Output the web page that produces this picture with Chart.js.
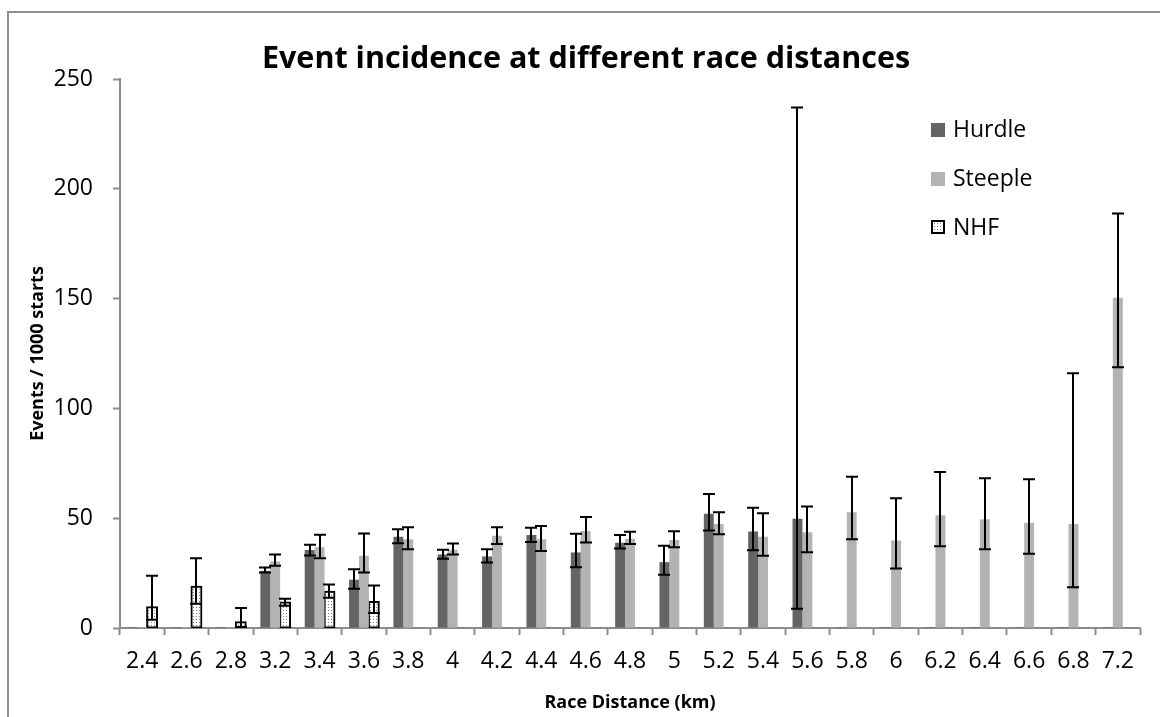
<!DOCTYPE html>
<html>
<head>
<meta charset="utf-8">
<script src="https://cdn.jsdelivr.net/npm/chart.js@4.4.1/dist/chart.umd.min.js"></script>
<style>
  html, body { margin: 0; padding: 0; background: #fff; overflow: hidden; }
  #wrap { position: relative; width: 1160px; height: 717px; overflow: hidden; }
  #frame { position: absolute; left: 7px; top: 11px; width: 1220px; height: 800px;
           border: 2px solid #8e8e8e; box-sizing: border-box; }
  #c { position: absolute; left: 0; top: 0; }
</style>
</head>
<body>
<div id="wrap">
  <div id="frame"></div>
  <canvas id="c" width="1160" height="717"></canvas>
</div>
<script>
// Race distances (km)
const distances = ['2.4','2.6','2.8','3.2','3.4','3.6','3.8','4','4.2','4.4','4.6','4.8',
                   '5','5.2','5.4','5.6','5.8','6','6.2','6.4','6.6','6.8','7.2'];

// Events per 1000 starts, with lower / upper confidence limits
const hurdle     = [0, 0, 0, 26.0, 35.5, 22.0, 41.6, 33.5, 32.6, 42.3, 34.4, 38.8, 30.0, 52.0, 43.9, 49.8, 0, 0, 0, 0, 0, 0, 0];
const hurdleLow  = [null, null, null, 25.3, 33.0, 17.9, 38.6, 31.5, 29.8, 39.2, 27.7, 36.2, 24.2, 44.4, 35.4, 8.8, null, null, null, null, null, null, null];
const hurdleHigh = [null, null, null, 27.6, 37.9, 26.8, 45.0, 35.6, 35.9, 45.6, 42.9, 42.3, 37.4, 61.0, 54.8, 237, null, null, null, null, null, null, null];

const steeple     = [0, 0, 0, 30.3, 36.8, 32.9, 40.4, 35.6, 42.0, 40.4, 44.2, 40.6, 40.1, 47.4, 41.5, 43.6, 52.7, 39.9, 51.3, 49.5, 47.9, 47.4, 150.4];
const steepleLow  = [null, null, null, 28.3, 31.8, 25.3, 35.9, 33.5, 38.2, 35.1, 38.9, 38.2, 36.8, 42.7, 32.9, 34.5, 40.4, 27.1, 37.2, 35.9, 33.8, 18.5, 118.7];
const steepleHigh = [null, null, null, 33.5, 42.5, 43.0, 45.9, 38.5, 45.9, 46.4, 50.6, 43.8, 44.1, 52.7, 52.3, 55.3, 68.9, 59.1, 71.0, 68.2, 67.7, 116, 188.8];

const nhf     = [9.4, 18.8, 2.6, 11.6, 16.5, 11.8, 0, 0, 0, 0, 0, 0, 0, 0, 0, 0, 0, 0, 0, 0, 0, 0, 0];
const nhfLow  = [3.8, 11.0, 0.5, 10.1, 13.8, 6.8, null, null, null, null, null, null, null, null, null, null, null, null, null, null, null, null, null];
const nhfHigh = [23.8, 31.8, 9.1, 13.3, 19.8, 19.4, null, null, null, null, null, null, null, null, null, null, null, null, null, null, null, null, null];

const yTicks = [0, 50, 100, 150, 200, 250];

const FONT = "'Open Sans', 'Noto Sans', sans-serif";
const HURDLE_COLOR = '#646464';
const STEEPLE_COLOR = '#b3b3b3';

// Dotted fill used for the NHF bars
function makeDotPattern(ctx) {
  const tile = document.createElement('canvas');
  tile.width = 3; tile.height = 3;
  const t = tile.getContext('2d');
  t.fillStyle = '#ffffff';
  t.fillRect(0, 0, 3, 3);
  t.fillStyle = '#7a7a7a';
  t.fillRect(1, 1, 1, 1);
  return ctx.createPattern(tile, 'repeat');
}

const canvas = document.getElementById('c');
const ctx2d = canvas.getContext('2d');
const dots = makeDotPattern(ctx2d);

const errorSets = [
  { low: hurdleLow, high: hurdleHigh },
  { low: steepleLow, high: steepleHigh },
  { low: nhfLow, high: nhfHigh }
];

// Asymmetric error bars drawn on top of each bar
const errorBarPlugin = {
  id: 'errorBars',
  afterDatasetsDraw(chart) {
    const { ctx, scales: { y } } = chart;
    ctx.save();
    ctx.strokeStyle = '#000';
    ctx.lineWidth = 2;
    errorSets.forEach((set, di) => {
      const meta = chart.getDatasetMeta(di);
      meta.data.forEach((bar, i) => {
        const lo = set.low[i], hi = set.high[i];
        if (lo == null || hi == null) return;
        const x = Math.round(bar.x);
        const yl = y.getPixelForValue(lo);
        const yh = y.getPixelForValue(hi);
        const cap = 6;
        ctx.beginPath();
        ctx.moveTo(x, yl); ctx.lineTo(x, yh);
        ctx.moveTo(x - cap, yl); ctx.lineTo(x + cap, yl);
        ctx.moveTo(x - cap, yh); ctx.lineTo(x + cap, yh);
        ctx.stroke();
      });
    });
    ctx.restore();
  }
};

// Legend stacked vertically inside the plot, top right
const insideLegendPlugin = {
  id: 'insideLegend',
  afterDraw(chart) {
    const { ctx } = chart;
    const x0 = 931, size = 14, rows = [129.5, 178.5, 227];
    ctx.save();
    ctx.font = `23px ${FONT}`;
    ctx.textBaseline = 'middle';
    ctx.textAlign = 'left';
    chart.data.datasets.forEach((ds, i) => {
      const cy = rows[i];
      const top = Math.round(cy - size / 2);
      if (ds.legendSwatch === 'pattern') {
        ctx.fillStyle = dots;
        ctx.fillRect(x0, top, size, size);
        ctx.strokeStyle = '#000';
        ctx.lineWidth = 2;
        ctx.strokeRect(x0 + 1, top + 1, size - 2, size - 2);
      } else {
        ctx.fillStyle = ds.legendSwatch;
        ctx.fillRect(x0, top, size, size);
      }
      ctx.fillStyle = '#000';
      ctx.fillText(ds.label, 953, cy + 1);
    });
    ctx.restore();
  }
};

new Chart(canvas, {
  type: 'bar',
  data: {
    labels: distances,
    datasets: [
      {
        label: 'Hurdle',
        data: hurdle,
        backgroundColor: HURDLE_COLOR,
        legendSwatch: HURDLE_COLOR,
        minBarLength: 1,
        borderWidth: 0
      },
      {
        label: 'Steeple',
        data: steeple,
        backgroundColor: STEEPLE_COLOR,
        legendSwatch: STEEPLE_COLOR,
        minBarLength: 1,
        borderWidth: 0
      },
      {
        label: 'NHF',
        data: nhf,
        backgroundColor: c => (c.raw === 0 ? '#7a7a7a' : dots),
        borderColor: '#000000',
        borderWidth: c => (c.raw === 0 ? 0 : 2),
        borderSkipped: false,
        inflateAmount: c => (c.raw === 0 ? 0 : 1),
        legendSwatch: 'pattern',
        minBarLength: 1
      }
    ]
  },
  options: {
    responsive: false,
    animation: false,
    layout: { padding: { left: 32, right: 20, top: 0, bottom: 0 } },
    datasets: {
      bar: { categoryPercentage: 0.67, barPercentage: 1.0 }
    },
    plugins: {
      legend: { display: false },
      tooltip: { enabled: false },
      title: {
        display: true,
        text: 'Event incidence at different race distances',
        color: '#000',
        font: { family: FONT, size: 30.5, weight: 'bold' },
        padding: { top: 41, bottom: 1.4 }
      }
    },
    scales: {
      x: {
        offset: true,
        grid: {
          offset: true,
          drawOnChartArea: false,
          drawTicks: true,
          tickLength: 7,
          tickColor: '#8c8c8c',
          tickWidth: 2
        },
        border: { color: '#8c8c8c', width: 2 },
        ticks: {
          color: '#000',
          font: { family: FONT, size: 23 },
          padding: 13,
          maxRotation: 0,
          autoSkip: false
        },
        title: {
          display: true,
          text: 'Race Distance (km)',
          color: '#000',
          font: { family: FONT, size: 18, weight: 'bold' },
          padding: { top: 0, bottom: 3 }
        },
        afterFit(scale) { scale.height = 89; }
      },
      y: {
        min: 0,
        max: 250,
        afterBuildTicks(scale) { scale.ticks = yTicks.map(v => ({ value: v })); },
        grid: {
          drawOnChartArea: false,
          drawTicks: true,
          tickLength: 7,
          tickColor: '#8c8c8c',
          tickWidth: 2
        },
        border: { color: '#8c8c8c', width: 2 },
        ticks: {
          color: '#000',
          font: { family: FONT, size: 23 },
          padding: 20
        },
        title: {
          display: true,
          text: 'Events / 1000 starts',
          color: '#000',
          font: { family: FONT, size: 18, weight: 'bold' },
          padding: { top: -4.5, bottom: 0 }
        },
        afterFit(scale) { scale.width = 88; }
      }
    }
  },
  plugins: [errorBarPlugin, insideLegendPlugin]
});
</script>
</body>
</html>
